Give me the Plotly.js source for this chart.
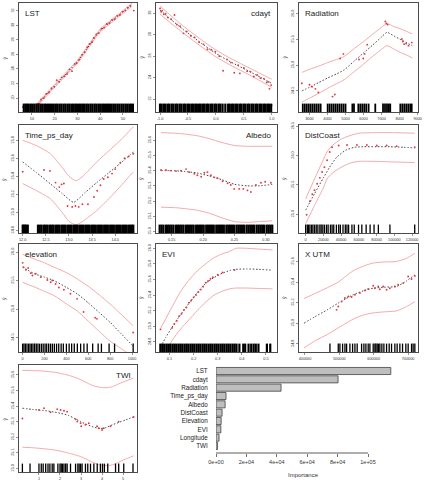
<!DOCTYPE html>
<html>
<head>
<meta charset="utf-8">
<script src="https://cdn.plot.ly/plotly-3.0.1.min.js"></script>
<style>html,body{margin:0;padding:0;background:#fff}#chart{width:425px;height:482px}</style>
</head>
<body>
<div id="chart"></div>
<script>
// ---------- LST ----------
const lstFitX = [9.5, 12, 15, 18, 21, 24, 27, 30, 33, 36, 38, 40, 42, 45, 48, 51, 54];
const lstFit = [18.2, 18.95, 20.0, 21.0, 22.0, 23.0, 24.0, 25.0, 26.3, 27.6, 28.5, 29.3, 29.85, 30.6, 31.35, 32.1, 32.85];
const lstUpper = [18.45, 19.17, 20.21, 21.2, 22.2, 23.2, 24.2, 25.2, 26.5, 27.8, 28.7, 29.5, 30.05, 30.8, 31.55, 32.3, 33.07];
const lstLower = [17.95, 18.73, 19.79, 20.8, 21.8, 22.8, 23.8, 24.8, 26.1, 27.4, 28.3, 29.1, 29.65, 30.4, 31.15, 31.9, 32.63];
const lstPtsX = [6.0, 10.4, 11.3, 12.2, 13.1, 14.0, 15.2, 16.3, 17.4, 18.6, 19.8, 20.9, 22.0, 23.1, 24.3, 25.4, 26.5, 27.6, 28.8, 29.6, 30.9, 32.0, 33.2, 34.3, 35.3, 36.4, 37.2, 38.3, 39.4, 40.6, 41.7, 42.9, 44.0, 45.2, 46.3, 47.5, 48.6, 49.8, 51.0, 52.1, 53.2, 54.8];
const lstPtsY = [18.76, 18.55, 18.7, 19.15, 19.25, 19.8, 20.0, 20.55, 20.75, 21.35, 21.55, 22.45, 22.25, 22.85, 23.0, 23.3, 23.95, 23.7, 24.7, 24.8, 25.3, 25.95, 26.3, 27.0, 27.45, 27.7, 28.3, 28.75, 28.95, 29.55, 29.7, 30.2, 30.3, 30.75, 30.85, 31.3, 31.45, 31.9, 32.05, 32.45, 32.7, 32.05];
const lstRug = [6.4, 7.2, 7.9, 8.6, 9.5, 10.3, 11.1, 12.0, 12.8, 13.7, 14.5, 15.4, 16.2, 17.1, 17.9, 18.8, 19.6, 20.5, 21.3, 22.2, 23.0, 23.9, 24.7, 25.6, 26.4, 27.3, 28.1, 29.0, 29.8, 30.7, 31.5, 32.4, 33.2, 34.1, 34.9, 35.8, 36.6, 37.5, 38.3, 39.2, 40.0, 40.9, 41.7, 42.6, 43.4, 44.3, 45.1, 46.0, 46.8, 47.7, 48.5, 49.4, 50.2, 51.1, 51.9, 52.8, 53.6, 54.4];
const lstTicksX = [10, 20, 30, 40, 50];
const lstTicksY = [20, 22, 24, 26, 28, 30, 32];

// ---------- cdayt ----------
const cdFitX = [-1.0, -0.8, -0.6, -0.4, -0.2, 0.0, 0.2, 0.4, 0.6, 0.8, 1.0];
const cdFit = [30.3, 29.4, 28.55, 27.75, 26.98, 26.26, 25.65, 25.1, 24.58, 24.02, 23.47];
const cdUpper = [30.68, 29.75, 28.88, 28.07, 27.3, 26.58, 25.97, 25.42, 24.9, 24.36, 23.85];
const cdLower = [29.92, 29.05, 28.22, 27.43, 26.66, 25.94, 25.33, 24.78, 24.26, 23.68, 23.09];
const cdPtsX = [-1.0, -0.98, -0.96, -0.93, -0.9, -0.86, -0.8, -0.74, -0.7, -0.64, -0.58, -0.52, -0.45, -0.38, -0.3, -0.22, -0.15, -0.08, -0.01, 0.06, 0.13, 0.2, 0.27, 0.33, 0.4, 0.43, 0.5, 0.56, 0.62, 0.68, 0.74, 0.8, 0.86, 0.91, 0.94, 0.96, 0.99, 1.0];
const cdPtsY = [30.45, 30.15, 30.25, 29.9, 29.95, 29.6, 29.45, 29.84, 28.95, 28.8, 28.13, 28.3, 27.9, 27.75, 27.3, 27.1, 26.65, 26.6, 26.41, 26.0, 24.64, 25.7, 25.4, 24.45, 25.15, 24.39, 24.9, 24.6, 24.55, 24.1, 24.25, 23.95, 23.9, 23.55, 23.6, 22.95, 23.3, 21.43];
const cdRug = [-1.00, -0.97, -0.93, -0.90, -0.86, -0.83, -0.79, -0.76, -0.72, -0.69, -0.65, -0.62, -0.58, -0.55, -0.51, -0.48, -0.44, -0.41, -0.37, -0.34, -0.30, -0.27, -0.23, -0.20, -0.16, -0.13, -0.09, -0.06, -0.02, 0.01, 0.05, 0.08, 0.12, 0.17, 0.22, 0.25, 0.29, 0.32, 0.36, 0.39, 0.43, 0.46, 0.50, 0.53, 0.57, 0.60, 0.64, 0.67, 0.71, 0.74, 0.78, 0.81, 0.85, 0.88, 0.92, 0.95, 0.99];
const cdTicksX = [-1.0, -0.5, 0.0, 0.5, 1.0];
const cdTicksY = [22, 24, 26, 28, 30];

// ---------- Radiation ----------
const radFitX = [2580, 3000, 3500, 4000, 4500, 4930, 5500, 6000, 6500, 7000, 7300, 7700, 8100, 8500, 8700];
const radFit = [24.50, 24.57, 24.66, 24.75, 24.83, 24.91, 25.085, 25.24, 25.39, 25.55, 25.64, 25.565, 25.49, 25.415, 25.38];
const radUpper = [24.86, 24.92, 24.98, 25.05, 25.11, 25.17, 25.33, 25.46, 25.60, 25.74, 25.81, 25.75, 25.70, 25.64, 25.61];
const radLower = [24.28, 24.36, 24.45, 24.55, 24.64, 24.72, 24.88, 25.02, 25.17, 25.31, 25.38, 25.31, 25.24, 25.18, 25.14];
const radPtsX = [2577, 3000, 3143, 3330, 3494, 4280, 4407, 4703, 4885, 5747, 5984, 6055, 6203, 7209, 7264, 7341, 8126, 8181, 8253, 8363, 8495, 8676];
const radPtsY = [24.65, 24.62, 24.58, 24.54, 24.47, 24.39, 24.43, 25.13, 25.22, 25.11, 25.13, 25.22, 25.40, 25.85, 25.81, 25.79, 25.51, 25.46, 25.41, 25.42, 25.38, 25.44];
const radRug = [2630, 2740, 2850, 2960, 3070, 3180, 3290, 3400, 3510, 3620, 4010, 4120, 4230, 4340, 4450, 4560, 4670, 4780, 4890, 5000, 5380, 5470, 5710, 5820, 5930, 6040, 6150, 6280, 6650, 7080, 7190, 7300, 7400, 7480, 8040, 8150, 8260, 8370, 8480, 8590, 8670];
const radTicksX = [3000, 4000, 5000, 6000, 7000, 8000, 9000];
const radTicksY = [24.5, 25.0, 25.5, 26.0];

// ---------- Time_ps_day ----------
const tpdFitX = [12.0, 12.3, 12.6, 12.85, 13.1, 13.35, 13.6, 13.85, 14.1, 14.39];
const tpdFit = [25.56, 25.44, 25.315, 25.21, 25.11, 25.22, 25.33, 25.435, 25.54, 25.67];
const tpdCiX = [12.0, 12.3, 12.6, 12.85, 13.0, 13.15, 13.3, 13.6, 13.9, 14.15, 14.39];
const tpdUpper = [25.80, 25.74, 25.65, 25.50, 25.40, 25.35, 25.40, 25.56, 25.70, 25.82, 25.95];
const tpdLower = [25.32, 25.24, 25.15, 25.00, 24.90, 24.86, 24.90, 25.02, 25.17, 25.31, 25.45];
const tpdPtsX = [12.0, 12.46, 12.59, 12.71, 12.79, 12.84, 12.89, 12.97, 13.07, 13.14, 13.21, 13.29, 13.41, 13.54, 13.61, 13.68, 13.75, 13.84, 13.93, 14.0, 14.11, 14.2, 14.29, 14.39];
const tpdPtsY = [25.45, 25.47, 25.46, 25.33, 25.28, 25.31, 25.32, 25.07, 25.06, 25.07, 25.06, 25.09, 25.09, 25.17, 25.24, 25.30, 25.37, 25.39, 25.43, 25.48, 25.55, 25.60, 25.62, 25.65];
const tpdRug = [12.00, 12.02, 12.05, 12.08, 12.11, 12.33, 12.37, 12.41, 12.46, 12.50, 12.54, 12.59, 12.63, 12.67, 12.72, 12.76, 12.80, 12.85, 12.89, 12.93, 12.98, 13.02, 13.06, 13.11, 13.15, 13.19, 13.24, 13.28, 13.32, 13.37, 13.41, 13.45, 13.50, 13.54, 13.58, 13.63, 13.67, 13.71, 13.76, 13.80, 13.84, 13.89, 13.93, 13.97, 14.02, 14.06, 14.10, 14.15, 14.19, 14.23, 14.28, 14.32, 14.36, 14.39];
const tpdTicksX = [12.0, 12.5, 13.0, 13.5, 14.0];
const tpdTicksY = [24.8, 25.0, 25.2, 25.4, 25.6, 25.8];

// ---------- Albedo ----------
const albFitX = [0.133, 0.15, 0.17, 0.19, 0.21, 0.23, 0.25, 0.27, 0.29, 0.31];
const albFit = [25.40, 25.40, 25.395, 25.385, 25.365, 25.34, 25.31, 25.30, 25.30, 25.31];
const albCiX = [0.133, 0.16, 0.19, 0.21, 0.23, 0.25, 0.27, 0.29, 0.31];
const albUpper = [25.65, 25.645, 25.63, 25.61, 25.585, 25.565, 25.56, 25.56, 25.56];
const albLower = [25.16, 25.155, 25.14, 25.12, 25.09, 25.065, 25.06, 25.065, 25.07];
const albPtsX = [0.1332, 0.1411, 0.149, 0.157, 0.165, 0.173, 0.178, 0.186, 0.191, 0.197, 0.202, 0.207, 0.2125, 0.218, 0.223, 0.231, 0.239, 0.244, 0.2495, 0.2575, 0.264, 0.2706, 0.276, 0.284, 0.292, 0.2987, 0.3078];
const albPtsY = [25.404, 25.404, 25.40, 25.397, 25.40, 25.41, 25.39, 25.38, 25.37, 25.36, 25.386, 25.39, 25.37, 25.356, 25.35, 25.33, 25.317, 25.306, 25.28, 25.28, 25.28, 25.27, 25.26, 25.306, 25.32, 25.327, 25.32];
const albRug = [0.131, 0.134, 0.137, 0.141, 0.144, 0.147, 0.150, 0.153, 0.157, 0.160, 0.163, 0.166, 0.169, 0.173, 0.176, 0.179, 0.182, 0.185, 0.189, 0.192, 0.195, 0.198, 0.201, 0.205, 0.208, 0.211, 0.214, 0.217, 0.221, 0.224, 0.227, 0.230, 0.233, 0.237, 0.240, 0.243, 0.246, 0.249, 0.253, 0.256, 0.259, 0.262, 0.265, 0.269, 0.272, 0.275, 0.278, 0.281, 0.285, 0.288, 0.291, 0.294, 0.297, 0.301, 0.304, 0.307, 0.310];
const albTicksX = [0.15, 0.20, 0.25, 0.30];
const albTicksY = [25.0, 25.1, 25.2, 25.3, 25.4, 25.5, 25.6];

// ---------- DistCoast ----------
const dcFitX = [0, 10000, 20000, 27000, 35000, 45000, 55000, 65000, 80000, 95000, 110000, 122900];
const dcFit = [25.07, 25.35, 25.62, 25.80, 25.97, 26.09, 26.14, 26.15, 26.15, 26.15, 26.14, 26.13];
const dcCiX = [0, 10000, 20000, 24000, 30000, 40000, 50000, 60000, 80000, 100000, 122900];
const dcUpper = [25.26, 25.60, 25.93, 26.06, 26.17, 26.28, 26.34, 26.38, 26.39, 26.39, 26.38];
const dcLower = [24.84, 25.15, 25.45, 25.60, 25.70, 25.80, 25.87, 25.90, 25.90, 25.89, 25.88];
const dcPtsX = [1100, 4800, 7500, 10000, 13000, 16000, 18600, 21200, 24200, 27100, 29800, 37200, 46600, 57800, 69000, 80200, 91300, 102500, 122900];
const dcPtsY = [24.99, 25.22, 25.34, 25.41, 25.52, 25.62, 25.72, 25.80, 25.92, 26.06, 26.14, 26.17, 26.18, 26.18, 26.18, 26.17, 26.17, 26.16, 26.14];
const dcRug = [0, 1900, 3350, 4840, 6700, 8190, 10060, 11920, 13780, 16020, 17500, 19370, 21230, 23460, 25320, 27930, 29790, 31650, 34640, 37250, 39110, 42090, 44690, 46560, 48420, 52140, 54750, 59590, 63310, 68160, 72630, 77090, 81930, 94970, 122900];
const dcTicksX = [0, 20000, 40000, 60000, 80000, 100000, 120000];
const dcTicksY = [25.0, 25.5, 26.0, 26.5];

// ---------- elevation ----------
const elFitX = [0, 50, 105, 200, 286, 400, 498, 600, 700, 799, 900, 1010];
const elFit = [25.735, 25.68, 25.62, 25.56, 25.50, 25.38, 25.27, 25.11, 24.94, 24.77, 24.57, 24.35];
const elUpper = [25.96, 25.92, 25.88, 25.81, 25.735, 25.64, 25.53, 25.40, 25.25, 25.09, 24.91, 24.71];
const elLower = [25.47, 25.43, 25.39, 25.31, 25.24, 25.09, 24.97, 24.79, 24.61, 24.44, 24.31, 24.16];
const elPtsX = [0, 9, 30, 51, 75, 90, 120, 166, 226, 256, 271, 301, 331, 377, 437, 498, 557, 663, 679, 1010];
const elPtsY = [25.81, 25.735, 25.69, 25.72, 25.63, 25.59, 25.62, 25.56, 25.51, 25.47, 25.50, 25.44, 25.38, 25.34, 25.27, 25.18, 24.95, 24.85, 24.83, 24.59];
const elRug = [0, 12, 25, 40, 55, 68, 82, 95, 110, 125, 140, 155, 172, 188, 205, 220, 238, 255, 272, 290, 310, 330, 352, 372, 400, 425, 448, 472, 500, 530, 560, 590, 640, 690, 720, 790, 840, 1010];
const elTicksX = [0, 200, 400, 600, 800, 1000];
const elTicksY = [24.5, 25.0, 25.5, 26.0];

// ---------- EVI ----------
const eviFitX = [0.0625, 0.085, 0.111, 0.145, 0.180, 0.215, 0.250, 0.285, 0.319, 0.35, 0.375, 0.42, 0.47, 0.5275];
const eviFit = [24.736, 24.86, 24.99, 25.145, 25.29, 25.43, 25.55, 25.625, 25.68, 25.715, 25.73, 25.735, 25.73, 25.72];
const eviUpper = [24.97, 25.10, 25.25, 25.44, 25.59, 25.71, 25.80, 25.88, 25.93, 25.96, 26.0, 26.0, 25.99, 25.98];
const eviLower = [24.50, 24.66, 24.82, 24.96, 25.08, 25.20, 25.31, 25.40, 25.45, 25.48, 25.49, 25.49, 25.485, 25.48];
const eviPtsX = [0.0625, 0.111, 0.12, 0.13, 0.14, 0.15, 0.16, 0.17, 0.18, 0.19, 0.20, 0.21, 0.22, 0.23, 0.24, 0.25, 0.26, 0.27, 0.28, 0.30, 0.32, 0.37];
const eviPtsY = [24.96, 24.98, 25.03, 25.07, 25.13, 25.16, 25.21, 25.24, 25.30, 25.33, 25.37, 25.40, 25.44, 25.47, 25.51, 25.56, 25.58, 25.61, 25.63, 25.66, 25.69, 25.72];
const eviRug = [0.062, 0.070, 0.078, 0.087, 0.095, 0.103, 0.112, 0.120, 0.128, 0.137, 0.145, 0.153, 0.162, 0.170, 0.178, 0.187, 0.195, 0.203, 0.212, 0.220, 0.228, 0.237, 0.245, 0.253, 0.262, 0.270, 0.278, 0.287, 0.295, 0.303, 0.312, 0.320, 0.328, 0.337, 0.345, 0.353, 0.362, 0.370, 0.378, 0.390, 0.406, 0.414, 0.428, 0.439, 0.449, 0.458, 0.469, 0.504, 0.518];
const eviTicksX = [0.1, 0.2, 0.3, 0.4, 0.5];
const eviTicksY = [24.8, 25.0, 25.2, 25.4, 25.6, 25.8, 26.0];

// ---------- X UTM ----------
const utmFitX = [397100, 430000, 465000, 496900, 520000, 540500, 570000, 598600, 630000, 666600, 695000, 719800];
const utmFit = [25.0, 25.065, 25.13, 25.196, 25.24, 25.277, 25.315, 25.34, 25.35, 25.357, 25.41, 25.47];
const utmUpper = [25.24, 25.29, 25.345, 25.40, 25.46, 25.51, 25.555, 25.585, 25.595, 25.60, 25.63, 25.68];
const utmLower = [24.76, 24.83, 24.89, 24.955, 25.0, 25.04, 25.08, 25.10, 25.11, 25.12, 25.16, 25.21];
const utmPtsX = [492000, 496900, 506700, 516300, 526000, 535700, 545300, 559900, 574400, 584100, 598600, 603500, 613200, 618000, 627700, 637500, 647100, 661600, 671300, 685900, 700400, 710200, 719800];
const utmPtsY = [25.13, 25.163, 25.21, 25.245, 25.26, 25.254, 25.277, 25.293, 25.318, 25.332, 25.364, 25.34, 25.357, 25.33, 25.357, 25.325, 25.34, 25.357, 25.374, 25.39, 25.454, 25.43, 25.46];
const utmRug = [472700, 496900, 501700, 509500, 516300, 521200, 530800, 538600, 545400, 552000, 564800, 571500, 577300, 584000, 589000, 598600, 603500, 606400, 610200, 614200, 618000, 623800, 629700, 637500, 645100, 652000, 661600, 668300, 676200, 684000, 693600, 700400, 710200, 714800, 719800];
const utmTicksX = [400000, 500000, 600000, 700000];
const utmTicksY = [24.8, 25.0, 25.2, 25.4, 25.6];

// ---------- TWI ----------
const twiFitX = [0.213, 0.7, 1.2, 1.7, 2.03, 2.4, 2.7, 2.98, 3.3, 3.6, 3.92, 4.2, 4.5, 4.8, 5.1, 5.5];
const twiFit = [25.386, 25.378, 25.372, 25.362, 25.353, 25.34, 25.32, 25.30, 25.28, 25.265, 25.255, 25.262, 25.28, 25.295, 25.31, 25.33];
const twiUpper = [25.63, 25.628, 25.625, 25.618, 25.61, 25.598, 25.585, 25.57, 25.548, 25.53, 25.52, 25.518, 25.525, 25.543, 25.56, 25.58];
const twiLower = [25.135, 25.132, 25.126, 25.118, 25.11, 25.098, 25.087, 25.075, 25.055, 25.036, 25.02, 25.018, 25.022, 25.04, 25.058, 25.08];
const twiPtsX = [0.213, 1.0, 1.24, 1.55, 1.87, 2.03, 2.19, 2.34, 2.74, 2.82, 2.98, 3.01, 3.21, 3.37, 3.76, 3.84, 4.0, 4.08, 4.40, 4.79, 5.50];
const twiPtsY = [25.32, 25.375, 25.386, 25.36, 25.38, 25.375, 25.37, 25.364, 25.315, 25.30, 25.29, 25.27, 25.28, 25.29, 25.27, 25.257, 25.246, 25.257, 25.27, 25.30, 25.33];
const twiRug = [0.213, 0.576, 1.0, 1.11, 1.20, 1.32, 1.43, 1.52, 1.63, 1.71, 1.90, 2.00, 2.06, 2.12, 2.19, 2.27, 2.34, 2.50, 2.74, 2.85, 2.91, 2.98, 3.05, 3.21, 3.32, 3.45, 3.61, 3.77, 3.92, 4.02, 4.11, 4.27, 4.64, 4.79, 5.03, 5.47];
const twiTicksX = [1, 2, 3, 4, 5];
const twiTicksY = [25.0, 25.1, 25.2, 25.3, 25.4, 25.5, 25.6];

// ---------- variable importance ----------
const impVars = ['LST', 'cdayt', 'Radiation', 'Time_ps_day', 'Albedo', 'DistCoast', 'Elevation', 'EVI', 'Longitude', 'TWI'];
const impValues = [115000, 80300, 42800, 6600, 6000, 4000, 3400, 3200, 2000, 1000];
const impTicks = [0, 20000, 40000, 60000, 80000, 100000];
const impTickText = ['0e+00', '2e+04', '4e+04', '6e+04', '8e+04', '1e+05'];

// ---------- page geometry (pixels) ----------
const W = 425, H = 482;
const FONT = 'Liberation Sans, Arial, sans-serif';
const colPx = {1: [19, 137], 2: [156, 277], 3: [299, 418]};
const rowPx = {1: [3, 112], 2: [125, 233], 3: [244, 352], 4: [365, 472]};
const fx = p => p / W;
const fy = p => 1 - p / H;

// rugW: stroke width of the rug ticks (dense samples read as a solid band)
const panels = [
  {label: 'LST', side: 'left', c: 1, r: 1, xr: [4.3, 56.2], yr: [18.07, 33.1], xt: lstTicksX, yt: lstTicksY, xd: 0, yd: 0, rugW: 2.2,
   fitX: lstFitX, fit: lstFit, ciX: lstFitX, up: lstUpper, lo: lstLower, ptsX: lstPtsX, ptsY: lstPtsY, rug: lstRug},
  {label: 'cdayt', side: 'right', c: 2, r: 1, xr: [-1.072, 1.095], yr: [20.79, 30.96], xt: cdTicksX, yt: cdTicksY, xd: 1, yd: 0, rugW: 2.2,
   fitX: cdFitX, fit: cdFit, ciX: cdFitX, up: cdUpper, lo: cdLower, ptsX: cdPtsX, ptsY: cdPtsY, rug: cdRug},
  {label: 'Radiation', side: 'left', c: 3, r: 1, xr: [2420, 9020], yr: [24.09, 26.21], xt: radTicksX, yt: radTicksY, xd: 0, yd: 1, rugW: 1.8,
   fitX: radFitX, fit: radFit, ciX: radFitX, up: radUpper, lo: radLower, ptsX: radPtsX, ptsY: radPtsY, rug: radRug},
  {label: 'Time_ps_day', side: 'left', c: 1, r: 2, xr: [11.92, 14.47], yr: [24.77, 25.97], xt: tpdTicksX, yt: tpdTicksY, xd: 1, yd: 1, rugW: 2.2,
   fitX: tpdFitX, fit: tpdFit, ciX: tpdCiX, up: tpdUpper, lo: tpdLower, ptsX: tpdPtsX, ptsY: tpdPtsY, rug: tpdRug},
  {label: 'Albedo', side: 'right', c: 2, r: 2, xr: [0.1252, 0.3175], yr: [24.99, 25.70], xt: albTicksX, yt: albTicksY, xd: 2, yd: 1, rugW: 2.2,
   fitX: albFitX, fit: albFit, ciX: albCiX, up: albUpper, lo: albLower, ptsX: albPtsX, ptsY: albPtsY, rug: albRug},
  {label: 'DistCoast', side: 'left', c: 3, r: 2, xr: [-7490, 126600], yr: [24.68, 26.52], xt: dcTicksX, yt: dcTicksY, xd: 0, yd: 1, rugW: 1.3,
   fitX: dcFitX, fit: dcFit, ciX: dcCiX, up: dcUpper, lo: dcLower, ptsX: dcPtsX, ptsY: dcPtsY, rug: dcRug},
  {label: 'elevation', side: 'left', c: 1, r: 3, xr: [-33, 1045], yr: [24.25, 26.14], xt: elTicksX, yt: elTicksY, xd: 0, yd: 1, rugW: 1.3,
   fitX: elFitX, fit: elFit, ciX: elFitX, up: elUpper, lo: elLower, ptsX: elPtsX, ptsY: elPtsY, rug: elRug},
  {label: 'EVI', side: 'left', c: 2, r: 3, xr: [0.044, 0.546], yr: [24.67, 26.055], xt: eviTicksX, yt: eviTicksY, xd: 1, yd: 1, rugW: 2.2,
   fitX: eviFitX, fit: eviFit, ciX: eviFitX, up: eviUpper, lo: eviLower, ptsX: eviPtsX, ptsY: eviPtsY, rug: eviRug},
  {label: 'X UTM', side: 'left', c: 3, r: 3, xr: [382600, 729000], yr: [24.72, 25.77], xt: utmTicksX, yt: utmTicksY, xd: 0, yd: 1, rugW: 1.3,
   fitX: utmFitX, fit: utmFit, ciX: utmFitX, up: utmUpper, lo: utmLower, ptsX: utmPtsX, ptsY: utmPtsY, rug: utmRug},
  {label: 'TWI', side: 'right', c: 1, r: 4, xr: [0.052, 5.66], yr: [24.976, 25.664], xt: twiTicksX, yt: twiTicksY, xd: 0, yd: 1, rugW: 1.3,
   fitX: twiFitX, fit: twiFit, ciX: twiFitX, up: twiUpper, lo: twiLower, ptsX: twiPtsX, ptsY: twiPtsY, rug: twiRug}
];

const traces = [];
const layout = {
  width: W, height: H,
  margin: {l: 0, r: 0, t: 0, b: 0},
  paper_bgcolor: '#ffffff', plot_bgcolor: '#ffffff',
  showlegend: false,
  font: {family: FONT, color: '#222'},
  annotations: [], shapes: []
};

const tickFont = {family: FONT, size: 3.8, color: '#333'};
const boxColor = '#4d4d4d';

panels.forEach((p, i) => {
  const n = i + 1;
  const xa = n === 1 ? 'xaxis' : 'xaxis' + n;
  const ya = n === 1 ? 'yaxis' : 'yaxis' + n;
  const xr = n === 1 ? 'x' : 'x' + n;
  const yr = n === 1 ? 'y' : 'y' + n;
  const cx = colPx[p.c], ry = rowPx[p.r];

  const common = {
    showline: true, mirror: true, linecolor: boxColor, linewidth: 1,
    ticks: 'outside', ticklen: 2, tickwidth: 0.6, tickcolor: boxColor,
    tickfont: tickFont, showgrid: false, zeroline: false, fixedrange: true
  };
  layout[xa] = Object.assign({}, common, {
    domain: [fx(cx[0]), fx(cx[1])], range: p.xr, anchor: yr,
    tickvals: p.xt, ticktext: p.xt.map(v => v.toFixed(p.xd))
  });
  layout[ya] = Object.assign({}, common, {
    domain: [fy(ry[1]), fy(ry[0])], range: p.yr, anchor: xr,
    tickvals: p.yt, ticktext: p.yt.map(v => v.toFixed(p.yd)), tickangle: -90
  });

  // confidence band edges
  [p.up, p.lo].forEach(band => traces.push({
    type: 'scatter', mode: 'lines', x: p.ciX, y: band, xaxis: xr, yaxis: yr,
    line: {color: '#f3a0a0', width: 0.9, shape: 'spline', smoothing: 0.6}, hoverinfo: 'skip'
  }));
  // fitted partial dependence
  traces.push({
    type: 'scatter', mode: 'lines', x: p.fitX, y: p.fit, xaxis: xr, yaxis: yr,
    line: {color: '#333333', width: 0.9, dash: '1.5px,1.8px', shape: 'spline', smoothing: 0.5}, hoverinfo: 'skip'
  });
  // binned observations
  traces.push({
    type: 'scatter', mode: 'markers', x: p.ptsX, y: p.ptsY, xaxis: xr, yaxis: yr,
    marker: {color: '#e23a44', size: 1.9}, hoverinfo: 'skip'
  });
  // rug of sampled values along the bottom edge
  traces.push({
    type: 'scatter', mode: 'markers', x: p.rug, y: p.rug.map(() => p.yr[0]), xaxis: xr, yaxis: yr,
    marker: {symbol: 'line-ns', size: 12, line: {width: p.rugW, color: '#000'}}, hoverinfo: 'skip'
  });

  // panel title inside the box
  const left = p.side === 'left';
  layout.annotations.push({
    xref: 'paper', yref: 'paper',
    x: left ? fx(cx[0] + 4) : fx(cx[1] - 4), y: fy(ry[0] + 10),
    xanchor: left ? 'left' : 'right', yanchor: 'middle',
    text: p.label, showarrow: false, font: {family: FONT, size: 8, color: '#222'}
  });
  // response label
  layout.annotations.push({
    xref: 'paper', yref: 'paper',
    x: fx(cx[0] - 15), y: fy((ry[0] + ry[1]) / 2),
    xanchor: 'center', yanchor: 'middle', textangle: -90,
    text: 'ŷ', showarrow: false, font: {family: FONT, size: 5, color: '#333'}
  });
});

// ---------- importance bar chart ----------
const bn = panels.length + 1;
const bx = 'x' + bn, by = 'y' + bn;
const barLeft = 216, barRight = 400, barTop = 366, barBottom = 453;
traces.push({
  type: 'bar', orientation: 'h', x: impValues, y: impVars, xaxis: bx, yaxis: by, width: 0.85,
  marker: {color: '#bebebe', line: {color: '#444', width: 0.8}}, hoverinfo: 'skip'
});
layout['xaxis' + bn] = {
  domain: [fx(barLeft), fx(barRight)], range: [0, 121050], anchor: by,
  showline: false, showgrid: false, zeroline: false, fixedrange: true,
  ticks: 'outside', ticklen: 3, tickwidth: 0.7, tickcolor: '#333',
  tickvals: impTicks, ticktext: impTickText,
  tickfont: {family: FONT, size: 5.5, color: '#333'}
};
layout['yaxis' + bn] = {
  domain: [fy(barBottom), fy(barTop)], type: 'category', categoryarray: impVars,
  range: [9.84, -0.6], anchor: bx,
  showline: false, showgrid: false, zeroline: false, fixedrange: true,
  ticks: 'outside', ticklen: 6, tickcolor: 'rgba(0,0,0,0)',
  tickfont: {family: FONT, size: 6.3, color: '#222'}
};
// axis line spans the labelled tick range only
layout.shapes.push({
  type: 'line', xref: bx, yref: 'paper',
  x0: impTicks[0], x1: impTicks[impTicks.length - 1], y0: fy(barBottom), y1: fy(barBottom),
  line: {color: '#333', width: 0.8}
});
layout.annotations.push({
  xref: 'paper', yref: 'paper', x: fx(303), y: fy(475), xanchor: 'center', yanchor: 'middle',
  text: 'Importance', showarrow: false, font: {family: FONT, size: 6, color: '#333'}
});

Plotly.newPlot('chart', traces, layout, {displayModeBar: false, staticPlot: true});
</script>
</body>
</html>
